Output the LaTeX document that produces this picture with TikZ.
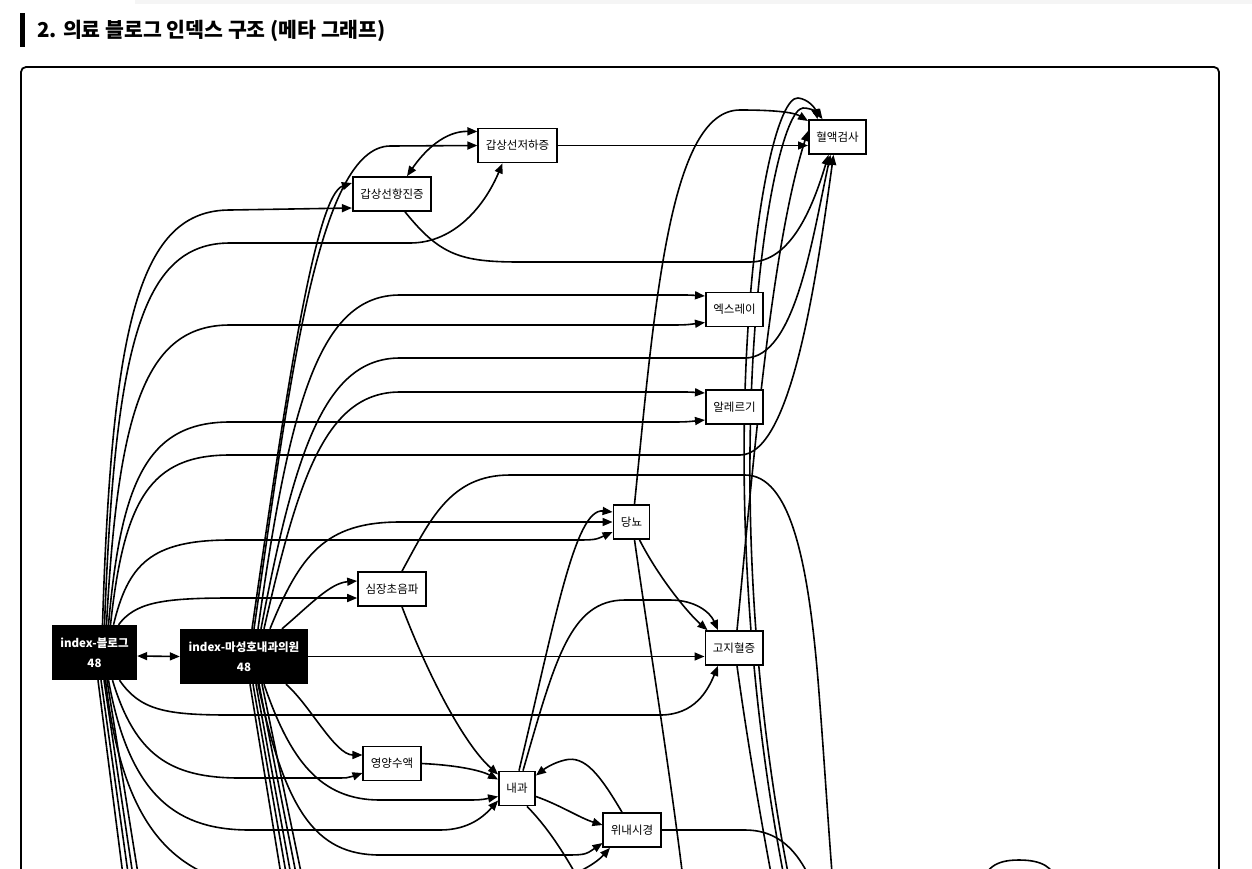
\documentclass[tikz,border=0pt]{standalone}
\usepackage{fontspec}
\newfontfamily\kr{Noto Sans CJK KR}
\usetikzlibrary{arrows.meta, backgrounds}
\tikzset{arr/.style={draw, ->, line width=1.6pt, >={Triangle[length=10pt,width=8pt]}}}
\tikzset{pbox/.style={draw, line width=1.7pt, fill=white, minimum height=34pt, inner xsep=7.5pt, font=\kr\fontsize{11.5}{13}\selectfont}}
\tikzset{ibox/.style={fill=black, text=white, minimum height=55pt, inner xsep=7pt, align=center, font=\kr\bfseries\fontsize{11.5}{20}\selectfont}}

\begin{document}
\begin{tikzpicture}[x=1pt, y=-1pt]
	\useasboundingbox (0,0) rectangle (1252,868);
	\fill[black!4] (135,0) rectangle (1252,4);
	\fill (20,13) rectangle (25,47);
	\node[anchor=west, inner sep=0pt] (title) at (37,31)
		{\kr\bfseries\fontsize{20.5}{23}\selectfont 2. 의료 블로그 인덱스 구조 (메타 그래프)};

	% pages
	\node[pbox] (hyul) at (837.5,137) {혈액검사};
	\node[pbox] (jeoha) at (517.5,145.5) {갑상선저하증};
	\node[pbox] (hangjin) at (392,194) {갑상선항진증};
	\node[pbox] (xray) at (734.5,309.5) {엑스레이};
	\node[pbox] (allergy) at (734.5,407) {알레르기};
	\node[pbox] (dangnyo) at (631.5,522) {당뇨};
	\node[pbox] (simjang) at (392,589) {심장초음파};
	\node[pbox] (gojihyul) at (734,648) {고지혈증};
	\node[pbox] (suaek) at (392,763.5) {영양수액};
	\node[pbox] (naegwa) at (517,788.5) {내과};
	\node[pbox] (naesi) at (632,830) {위내시경};
	% index pages
	\node[ibox, minimum width=85pt] (blog) at (94.5,652.5) {index-블로그\\48};
	\node[ibox, minimum width=128pt] (clinic) at (244,656.5) {index-마성호내과의원\\48};

	% ends below the frame edge
	\coordinate (gdown) at (782,930);
	\coordinate (hin1) at (795,930);
	\coordinate (hin2) at (800,930);
	\coordinate (sdown) at (838,940);
	\coordinate (ndown) at (605,930);
	\coordinate (ddown) at (690,940);
	\coordinate (wdown) at (822,910);
	\coordinate (lpa) at (979,890);
	\coordinate (lpb) at (1059,890);

	\begin{scope}[on background layer]
		\draw[line width=1.8pt, rounded corners=5pt] (21,67) rectangle (1219,900);

		% thyroid
		\draw[arr] (jeoha.east) -- (jeoha.east -| hyul.west);
		\draw[arr, <->] ([xshift=15pt]hangjin.north) .. controls (425,150) and (445,131) .. ([yshift=14pt]jeoha.west);
		\draw[arr] ([xshift=13pt]hangjin.south) .. controls (440,255) and (460,262) .. (520,262) -- (750,262)
			.. controls (790,262) and (812,210) .. ([xshift=-9pt]hyul.south);

		% index-blog, up
		\draw[arr] ([xshift=8pt]blog.north) .. controls (112,320) and (140,210) .. (230,210) -- ([yshift=-14pt]hangjin.west);
		\draw[arr] ([xshift=10pt]blog.north) .. controls (115,350) and (140,243) .. (230,243) -- (410,243)
			.. controls (455,243) and (485,205) .. ([xshift=-15pt]jeoha.south);
		\draw[arr] ([xshift=12pt]blog.north) .. controls (118,410) and (145,325) .. (230,325) -- (660,325)
			.. controls (685,325) .. ([yshift=-13pt]xray.west);
		\draw[arr] ([xshift=14pt]blog.north) .. controls (121,480) and (148,422) .. (230,422) -- (660,422)
			.. controls (685,422) .. ([yshift=-13pt]allergy.west);
		\draw[arr] ([xshift=16pt]blog.north) .. controls (124,500) and (150,455) .. (230,455) -- (740,455)
			.. controls (790,455) and (815,290) .. ([xshift=-4pt]hyul.south);
		\draw[arr] ([xshift=19pt]blog.north) .. controls (128,565) and (150,540) .. (230,540) -- (570,540)
			.. controls (595,540) .. ([yshift=-10pt]dangnyo.west);
		\draw[arr] ([xshift=24pt]blog.north) .. controls (135,603) and (160,598) .. (230,598) -- ([yshift=-9pt]simjang.west);
		\draw[arr, <->] ([yshift=-3.5pt]blog.east) -- (clinic.west);

		% index-blog, down
		\draw[arr] ([xshift=25pt]blog.south) .. controls (140,710) and (165,715) .. (230,715) -- (660,715)
			.. controls (695,715) and (708,690) .. ([xshift=-16pt]gojihyul.south);
		\draw[arr] ([xshift=18pt]blog.south) .. controls (135,755) and (170,778) .. (240,778) -- (330,778)
			.. controls (348,778) .. ([yshift=-9.5pt]suaek.west);
		\draw[arr] ([xshift=14pt]blog.south) .. controls (130,800) and (180,830) .. (250,830) -- (440,830)
			.. controls (470,830) and (485,815) .. ([yshift=-12pt]naegwa.west);
		\draw[arr] ([xshift=11pt]blog.south) .. controls (125,850) and (190,890) .. (300,890) -- (500,890)
			.. controls (545,890) and (590,870) .. ([xshift=-22pt]naesi.south);
		\foreach \i/\dx/\ex in {1/3.5/130, 2/6.5/136, 3/9.5/141, 4/12.5/147}{
			\coordinate (bdown\i) at (\ex,930);
			\draw[arr] ([xshift=\dx pt]blog.south) -- (bdown\i);
		}

		% index-clinic, up
		\draw[arr] ([xshift=8pt]clinic.north) .. controls (285,400) and (315,195) .. ([yshift=11pt]hangjin.west);
		\draw[arr] ([xshift=10pt]clinic.north) .. controls (290,380) and (318,147) .. (390,146) -- (jeoha.west);
		\draw[arr] ([xshift=14pt]clinic.north) .. controls (290,400) and (320,295) .. (400,295) -- (670,295)
			.. controls (690,295) .. ([yshift=13.5pt]xray.west);
		\draw[arr] ([xshift=17pt]clinic.north) .. controls (295,450) and (325,358) .. (400,358) -- (745,358)
			.. controls (795,358) and (812,240) .. ([xshift=-7pt]hyul.south);
		\draw[arr] ([xshift=20pt]clinic.north) .. controls (298,480) and (325,392) .. (400,392) -- (670,392)
			.. controls (690,392) .. ([yshift=14pt]allergy.west);
		\draw[arr] ([xshift=26pt]clinic.north) .. controls (300,555) and (325,522) .. (400,522) -- (dangnyo.west);
		\draw[arr] ([xshift=38pt]clinic.north) .. controls (310,605) and (330,583) .. ([yshift=8pt]simjang.west);
		\draw[arr] (clinic.east) -- (clinic.east -| gojihyul.west);

		% index-clinic, down
		\draw[arr] ([xshift=42pt]clinic.south) .. controls (310,705) and (335,755) .. ([yshift=8.5pt]suaek.west);
		\draw[arr] ([xshift=20pt]clinic.south) .. controls (290,760) and (320,800) .. (380,800) -- (460,800)
			.. controls (480,800) .. ([yshift=-8pt]naegwa.west);
		\draw[arr] ([xshift=14pt]clinic.south) .. controls (285,810) and (315,855) .. (380,855) -- (560,855)
			.. controls (585,855) .. ([yshift=-13pt]naesi.west);
		\foreach \i/\dx/\ex in {1/6/290, 2/9/296, 3/12/301, 4/15/307, 5/18/313}{
			\coordinate (cdown\i) at (\ex,930);
			\draw[arr] ([xshift=\dx pt]clinic.south) -- (cdown\i);
		}

		% between pages
		\draw[arr] (suaek.east) .. controls (455,765) and (480,770) .. ([yshift=9pt]naegwa.west);
		\draw[arr] ([xshift=10pt]simjang.south) .. controls (430,680) and (465,745) .. ([yshift=14pt]naegwa.west);
		\draw[arr] ([yshift=-8pt]naegwa.east) .. controls (560,805) and (580,818) .. ([yshift=5pt]naesi.west);
		\draw[arr] ([xshift=-10pt]naesi.north) .. controls (600,775) and (585,755) .. (565,760)
			.. controls (552,763) and (543,770) .. ([yshift=13pt]naegwa.east);
		\draw[arr] ([xshift=2pt]naegwa.north) .. controls (555,620) and (575,508) .. ([yshift=10pt]dangnyo.west);
		\draw[arr] ([xshift=6pt]naegwa.north) .. controls (555,660) and (570,600) .. (625,600) -- (670,600)
			.. controls (695,600) and (710,612) .. ([xshift=-16pt]gojihyul.north);
		\draw[arr] ([xshift=8pt]dangnyo.south) .. controls (660,580) and (690,615) .. ([xshift=3pt]gojihyul.north west);
		\draw[arr] ([xshift=3pt]dangnyo.north) .. controls (655,300) and (670,110) .. (740,110)
			.. controls (780,110) and (795,113) .. ([yshift=16pt]hyul.west);
		\draw[arr] ([xshift=3pt]gojihyul.north) .. controls (752,480) and (770,250) .. ([yshift=6pt]hyul.west);
		\draw[arr] ([xshift=3pt]gojihyul.south) .. controls (750,760) and (768,860) .. (gdown);
		\draw[arr] ([xshift=10pt]simjang.north) .. controls (430,520) and (450,475) .. (510,475) -- (745,475)
			.. controls (790,475) and (808,560) .. (818,680) .. controls (826,780) and (830,860) .. (sdown);
		\draw[arr] ([xshift=10pt]naegwa.south) .. controls (550,830) and (570,860) .. (ndown);
		\draw[arr] ([xshift=3pt]dangnyo.south) .. controls (650,650) and (675,800) .. (ddown);
		\draw[arr] (naesi.east) -- (745,830) .. controls (785,830) and (805,860) .. (wdown);

		% from below, round over the top
		\draw[arr] (hin1) .. controls (700,500) and (760,95) .. (798,98)
			.. controls (808,99) and (815,108) .. ([xshift=-20pt]hyul.north);
		\draw[arr] (hin2) .. controls (705,510) and (768,110) .. (803,108)
			.. controls (812,108) and (818,113) .. ([xshift=-15pt]hyul.north);
		\draw[arr] (lpa) .. controls (985,868) and (995,860) .. (1019,860)
			.. controls (1043,860) and (1053,868) .. (lpb);
	\end{scope}
\end{tikzpicture}
\end{document}
